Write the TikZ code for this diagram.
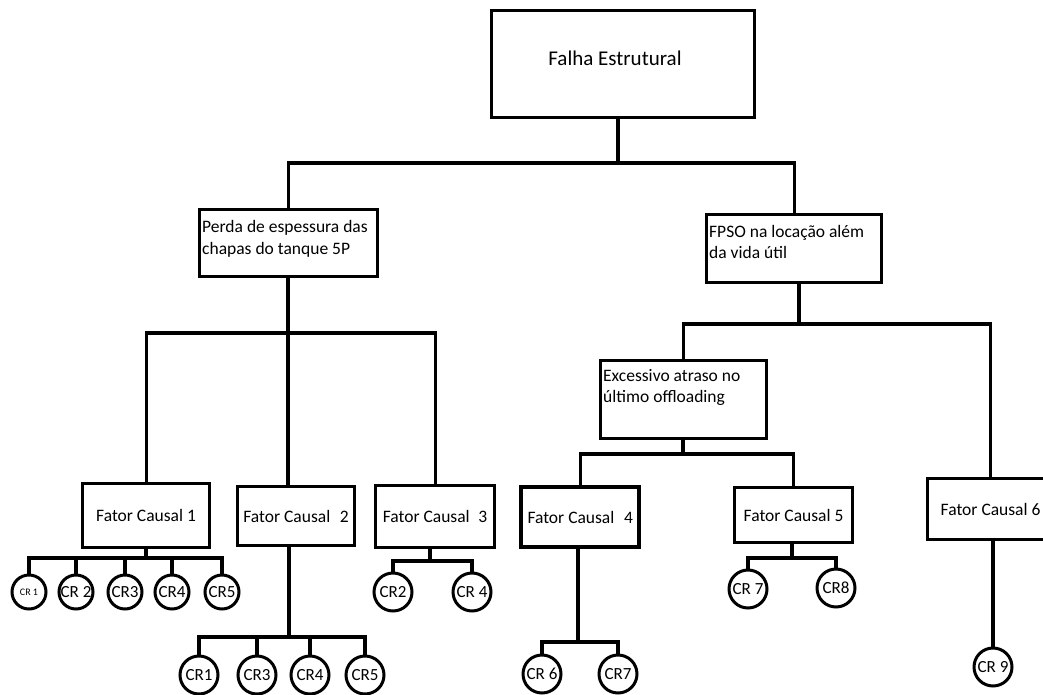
\documentclass[tikz,border=0pt]{standalone}
\usepackage{fontspec}
\setmainfont{Carlito}
\begin{document}
\tikzset{
  ln/.style={line width=3.2pt},
  box/.style={draw, rectangle, line width=3.2pt, anchor=north west, inner sep=0pt,
    font=\fontsize{17.5}{21}\selectfont},
  crc/.style={draw, circle, line width=3pt, minimum size=38pt, inner sep=0pt,
    font=\fontsize{17}{19}\selectfont},
  crs/.style={crc, minimum size=34pt},
  lbl/.style={inner sep=0pt, anchor=base west, font=\fontsize{17.5}{21.7}\selectfont},
}
\begin{tikzpicture}[x=1pt,y=-1pt]
\useasboundingbox (0,0) rectangle (1043,695);
\fill[white] (0,0) rectangle (1043,695);
\clip (0,0) rectangle (1043,695);

% boxes
\node[box, minimum width=263pt, minimum height=107pt] (falha) at (490,9) {};
\node[inner sep=0pt, anchor=base, font=\fontsize{21}{25}\selectfont] (tfalha) at (615,66) {Falha Estrutural};

\node[box, minimum width=178pt, minimum height=67pt] (perda) at (198,208) {};
\node[lbl] (tperda) at (202,232.5) {\parbox[t]{170pt}{Perda de espessura das\\chapas do tanque 5P}};

\node[box, minimum width=175pt, minimum height=68pt] (fpso) at (705,213) {};
\node[lbl] (tfpso) at (709,237) {\parbox[t]{170pt}{FPSO na locação além\\da vida útil}};

\node[box, minimum width=166pt, minimum height=78pt] (exc) at (599,359) {};
\node[lbl] (texc) at (603,381) {\parbox[t]{160pt}{Excessivo atraso no\\último offloading}};

\node[box, minimum width=127pt, minimum height=64pt] (fc1) at (81,482) {Fator Causal 1};
\node[box, minimum width=117pt, minimum height=59pt] (fc2) at (236,485) {Fator Causal\hspace{0.55em}2};
\node[box, minimum width=119pt, minimum height=62pt] (fc3) at (374,484) {Fator Causal\hspace{0.5em}3};
\node[box, line width=4.4pt, minimum width=118pt, minimum height=60pt] (fc4) at (519,485) {Fator Causal\hspace{0.55em}4};
\node[box, minimum width=118pt, minimum height=55pt] (fc5) at (733,486) {Fator Causal 5};
\node[box, minimum width=126pt, minimum height=61pt] (fc6) at (926,477) {Fator Causal 6};

% circles
\node[crs, font=\fontsize{10}{12}\selectfont] (c11) at (29,592) {CR 1};
\node[crs] (c12) at (76,592) {CR 2};
\node[crs] (c13) at (125,592) {CR3};
\node[crs] (c14) at (172,592) {CR4};
\node[crs] (c15) at (222,592) {CR5};

\node[crc] (c21) at (199,675) {CR1};
\node[crc] (c23) at (257,675) {CR3};
\node[crc] (c24) at (310,675) {CR4};
\node[crc] (c25) at (365,675) {CR5};

\node[crc] (c32) at (393,592) {CR2};
\node[crc] (c34) at (472,592) {CR 4};

\node[crc] (c46) at (542,674) {CR 6};
\node[crc] (c47) at (618,674) {CR7};

\node[crc] (c57) at (748,589) {CR 7};
\node[crc] (c58) at (836,588) {CR8};

\node[crc] (c69) at (993,667) {CR 9};

% bus coordinates
\coordinate (b0) at (618,163);
\coordinate (b1) at (288,333);
\coordinate (b2) at (799,324);
\coordinate (b3) at (683,454);
\coordinate (b4) at (146,558);
\coordinate (b5) at (289,637);
\coordinate (b6) at (430,561);
\coordinate (b7) at (578,642);
\coordinate (b8) at (792,558);

% connectors
\draw[ln] (falha.south -| b0) -- (b0);
\draw[ln] (perda.north) |- (b0) -| (fpso.north);

\draw[ln] (perda.south -| b1) -- (b1);
\draw[ln] (fc1.north) |- (b1) -| (fc3.north);
\draw[ln] (b1) -- (b1 |- fc2.north);

\draw[ln] (fpso.south -| b2) -- (b2);
\draw[ln] (exc.north) |- (b2) -| (fc6.north);

\draw[ln] (exc.south -| b3) -- (b3);
\draw[ln] (fc4.north) |- (b3) -| (fc5.north);

\draw[ln] (fc1.south -| b4) -- (b4);
\draw[ln] (c11.north) |- (b4) -| (c15.north);
\draw[ln] (c12.north) -- (c12.north |- b4);
\draw[ln] (c13.north) -- (c13.north |- b4);
\draw[ln] (c14.north) -- (c14.north |- b4);

\draw[ln] (fc2.south -| b5) -- (b5);
\draw[ln] (c21.north) |- (b5) -| (c25.north);
\draw[ln] (c23.north) -- (c23.north |- b5);
\draw[ln] (c24.north) -- (c24.north |- b5);

\draw[ln] (fc3.south -| b6) -- (b6);
\draw[ln] (c32.north) |- (b6) -| (c34.north);

\draw[ln] (fc4.south -| b7) -- (b7);
\draw[ln] (c46.north) |- (b7) -| (c47.north);

\draw[ln] (fc5.south -| b8) -- (b8);
\draw[ln] (c57.north) |- (b8) -| (c58.north);

\draw[ln] (fc6.south -| c69.north) -- (c69.north);
\end{tikzpicture}
\end{document}
